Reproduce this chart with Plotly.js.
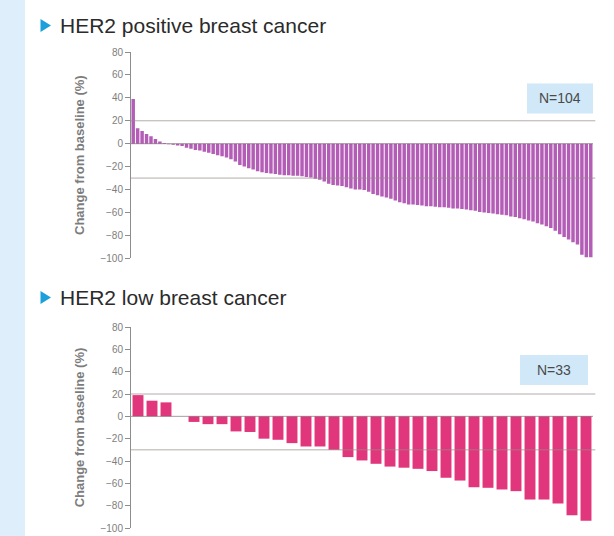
<!DOCTYPE html>
<html>
<head>
<meta charset="utf-8">
<script src="https://cdn.plot.ly/plotly-3.0.1.min.js"></script>
<style>
  html, body { margin: 0; padding: 0; background: #ffffff; }
  #chart { width: 614px; height: 536px; }
</style>
</head>
<body>
<div id="chart"></div>
<script>
// Best percentage change from baseline in tumour size, one bar per patient (waterfall order)
const herPositiveChange = [
  39, 13.5, 11, 8.5, 6.5, 4, 2, 0.5,
  -0.5, -1, -1.5, -2, -3.5, -4.5, -5.5, -6, -7, -8,
  -9, -10, -11, -12, -13.5, -15.5, -18.5, -20, -21.5, -22.5,
  -24, -25, -25.5, -26, -26.5, -27, -27.5, -27.5, -28, -28,
  -28.5, -29, -29.5, -30.5, -31.5, -33, -35, -36, -36.5, -37,
  -38, -39, -40, -40, -40.5, -42, -44, -45, -46, -47,
  -48, -49.5, -51, -52, -53, -53, -53.5, -54, -54.5, -54.5,
  -55, -55.5, -55.5, -56, -56.5, -56.5, -57, -57.5, -58, -58.5,
  -59.5, -60, -60.5, -61, -61.5, -62, -62.5, -63.5, -64, -65,
  -66, -67, -68, -69.5, -70.5, -72, -73.5, -76, -79, -81.5,
  -83.5, -86, -88, -97, -99, -99
];
const herLowChange = [
  19, 14, 12.5, 0, -5, -7, -7, -13.5, -14, -20,
  -21, -24, -27, -27, -30, -36.5, -39.5, -42.5, -45, -46,
  -47, -49, -55, -57.5, -63.5, -64, -65.5, -67, -74.5, -74.5,
  -78, -88.5, -93.5
];
const panelTitles = ["HER2 positive breast cancer", "HER2 low breast cancer"];
const sampleLabels = ["N=104", "N=33"];
const yTickValues = [-100, -80, -60, -40, -20, 0, 20, 40, 60, 80];
const referenceLevels = [20, -30];
const yAxisLabel = "Change from baseline (%)";

const W = 614, H = 536;
const px = v => v / W;           // pixel -> paper x
const py = v => 1 - v / H;       // pixel -> paper y
const FONT = "Liberation Sans, Arial, Helvetica, sans-serif";

const patientIndex = arr => arr.map((_, i) => i + 1);

const traces = [
  {
    type: "bar",
    x: patientIndex(herPositiveChange),
    y: herPositiveChange,
    xaxis: "x", yaxis: "y",
    marker: { color: "#b35db7", line: { width: 0 } },
    hoverinfo: "y"
  },
  {
    type: "bar",
    x: patientIndex(herLowChange),
    y: herLowChange,
    xaxis: "x2", yaxis: "y2",
    marker: { color: "#e1357c", line: { width: 0 } },
    hoverinfo: "y"
  }
];

function yAxisStyle(domain) {
  return {
    domain: domain,
    range: [-100, 80],
    tickvals: yTickValues,
    ticks: "outside",
    ticklen: 5,
    tickwidth: 1,
    tickcolor: "#8d8d8d",
    showline: true,
    linecolor: "#8d8d8d",
    linewidth: 1,
    showgrid: false,
    zeroline: false,
    tickfont: { family: FONT, size: 10, color: "#7e7e7e" },
    title: { text: "<b>" + yAxisLabel + "</b>", font: { family: FONT, size: 13, color: "#7c7c7c" }, standoff: 12 },
    fixedrange: true
  };
}
function xAxisStyle(n, anchor) {
  return {
    domain: [px(131), px(593)],
    range: [0.5, n + 0.5],
    visible: false,
    anchor: anchor,
    fixedrange: true
  };
}

const shapes = [];
// light blue side band
shapes.push({ type: "rect", xref: "paper", yref: "paper", x0: 0, x1: px(25), y0: 0, y1: 1,
  fillcolor: "#deeefa", line: { width: 0 }, layer: "below" });

// reference lines and zero line for each panel
[["x", "y"], ["x2", "y2"]].forEach(([xa, ya]) => {
  referenceLevels.forEach(lv => {
    shapes.push({ type: "line", xref: xa + " domain", yref: ya, x0: 0, x1: 1.005, y0: lv, y1: lv,
      line: { color: "rgba(150,138,134,0.7)", width: 1 }, layer: "above" });
  });
  shapes.push({ type: "line", xref: xa + " domain", yref: ya, x0: 0, x1: 1.0, y0: 0, y1: 0,
    line: { color: "rgba(120,100,110,0.65)", width: 1 }, layer: "above" });
});

// heading markers (blue triangles)
function tri(cy) {
  return { type: "path", xref: "paper", yref: "paper",
    path: `M ${px(40.5)} ${py(cy - 6.5)} L ${px(40.5)} ${py(cy + 6.5)} L ${px(51)} ${py(cy)} Z`,
    fillcolor: "#1d9fdc", line: { width: 0 } };
}
shapes.push(tri(25.5));
shapes.push(tri(297.5));

// sample size boxes
const boxes = [
  { x0: 527, x1: 593, y0: 83.5, y1: 113.5 },
  { x0: 520, x1: 588, y0: 355, y1: 385 }
];
boxes.forEach(b => shapes.push({ type: "rect", xref: "paper", yref: "paper",
  x0: px(b.x0), x1: px(b.x1), y0: py(b.y1), y1: py(b.y0),
  fillcolor: "#d0e8f8", line: { width: 0 } }));

const annotations = [];
[25.5, 297.5].forEach((cy, i) => annotations.push({
  xref: "paper", yref: "paper", x: px(58), y: py(cy), xanchor: "left", yanchor: "middle",
  text: panelTitles[i], showarrow: false,
  font: { family: FONT, size: 21, color: "#2b2b2b" }
}));
boxes.forEach((b, i) => annotations.push({
  xref: "paper", yref: "paper", x: px((b.x0 + b.x1) / 2), y: py((b.y0 + b.y1) / 2),
  xanchor: "center", yanchor: "middle", text: sampleLabels[i], showarrow: false,
  font: { family: FONT, size: 14, color: "#4a4a4a" }
}));

const layout = {
  width: W, height: H,
  margin: { l: 0, r: 0, t: 0, b: 0 },
  paper_bgcolor: "#ffffff",
  plot_bgcolor: "rgba(0,0,0,0)",
  showlegend: false,
  bargap: 0.22,
  xaxis: xAxisStyle(herPositiveChange.length, "y"),
  yaxis: Object.assign(yAxisStyle([py(258.3), py(52)]), { anchor: "x" }),
  xaxis2: xAxisStyle(herLowChange.length, "y2"),
  yaxis2: Object.assign(yAxisStyle([py(528), py(327)]), { anchor: "x2" }),
  shapes: shapes,
  annotations: annotations
};

Plotly.newPlot("chart", traces, layout, { displayModeBar: false, staticPlot: true });
</script>
</body>
</html>
